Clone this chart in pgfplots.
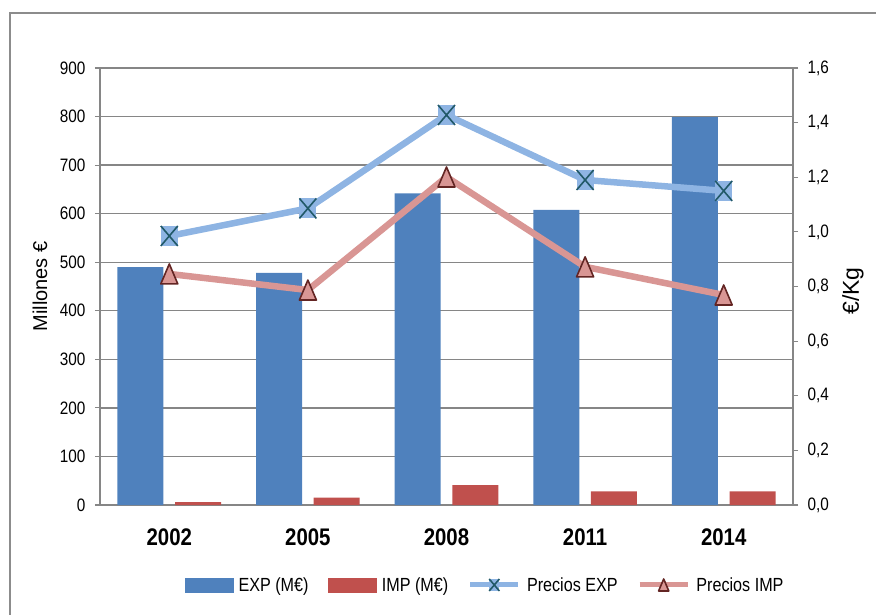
\documentclass[border=0pt]{standalone}
\usepackage{pgfplots}
\pgfplotsset{compat=1.18}
\usepackage{fontspec}
\setmainfont{Liberation Sans}[FakeStretch=0.85]
\newfontfamily\rotfont{Liberation Sans}

\definecolor{expblue}{HTML}{4F81BD}
\definecolor{impred}{HTML}{C0504D}
\definecolor{lblue}{HTML}{8EB4E3}
\definecolor{lred}{HTML}{D99694}
\definecolor{xteal}{HTML}{215968}
\definecolor{tdark}{HTML}{632523}
\definecolor{gridgray}{HTML}{868686}
\definecolor{bordergray}{HTML}{8C8C8C}

\pgfdeclareplotmark{sqx}{%
  \pgfpathrectangle{\pgfpoint{-0.85\pgfplotmarksize}{-\pgfplotmarksize}}{\pgfpoint{1.7\pgfplotmarksize}{2\pgfplotmarksize}}%
  \pgfsetfillcolor{lblue}\pgfusepathqfill
  \pgfpathmoveto{\pgfpoint{-0.85\pgfplotmarksize}{-\pgfplotmarksize}}%
  \pgfpathlineto{\pgfpoint{0.85\pgfplotmarksize}{\pgfplotmarksize}}%
  \pgfpathmoveto{\pgfpoint{-0.85\pgfplotmarksize}{\pgfplotmarksize}}%
  \pgfpathlineto{\pgfpoint{0.85\pgfplotmarksize}{-\pgfplotmarksize}}%
  \pgfusepathqstroke
}
\pgfdeclareplotmark{tri}{%
  \pgfpathmoveto{\pgfpoint{0pt}{\pgfplotmarksize}}%
  \pgfpathlineto{\pgfpoint{-0.85\pgfplotmarksize}{-\pgfplotmarksize}}%
  \pgfpathlineto{\pgfpoint{0.85\pgfplotmarksize}{-\pgfplotmarksize}}%
  \pgfpathclose
  \pgfusepathqfillstroke
}
\pgfplotsset{
  mylinelegend/.style={legend image code/.code={\draw[mark repeat=2,mark phase=2,##1, line width=5bp, mark size=6bp] plot coordinates {(0bp,0bp) (24bp,0bp) (48bp,0bp)};\path (51bp,0bp);}},
  expbarlegend/.style={legend image code/.code={\fill[expblue] (0bp,-7bp) rectangle (48bp,7bp);\path (51bp,0bp);}},
  impbarlegend/.style={legend image code/.code={\fill[impred] (0bp,-7bp) rectangle (48bp,7bp);\path (51bp,0bp);}},
}

\begin{document}
\begin{tikzpicture}
\useasboundingbox (-100bp,-110bp) rectangle (776bp,505bp);
\draw[bordergray, line width=2bp] (-90bp,-130bp) -- (-90bp,492bp) -- (800bp,492bp);

\begin{axis}[
  scale only axis, width=693bp, height=437bp,
  at={(0,0)}, anchor=south west,
  xmin=-0.5, xmax=4.5, ymin=0, ymax=900,
  xtick={0,1,2,3,4}, xticklabels={2002,2005,2008,2011,2014},
  xticklabel style={font=\fontsize{24bp}{28bp}\selectfont\bfseries, inner sep=0pt, anchor=north, yshift=-19bp},
  xtick style={draw=none},
  ytick={0,100,200,300,400,500,600,700,800,900},
  axis x line*=bottom, axis y line*=left,
  axis line style={-, draw=gridgray, line width=1.5bp},
  tick align=outside, major tick length=5bp,
  tick style={draw=gridgray, line width=1.2bp},
  ymajorgrids, grid style={draw=gridgray, line width=1.3bp},
  yticklabel style={font=\fontsize{18bp}{21bp}\selectfont, xshift=-6bp},
  /pgf/number format/assume math mode=true,
  ylabel={\rotfont Millones €},
  every axis y label/.style={at={(axis description cs:-0.0866,0.5)}, anchor=center, rotate=90, font=\fontsize{20bp}{24bp}\selectfont},
]
\addplot[ybar, bar width=46bp, bar shift=-28.8bp, fill=expblue, draw=none]
  coordinates {(0,490) (1,478) (2,642) (3,608) (4,799)};
\addplot[ybar, bar width=46bp, bar shift=28.8bp, fill=impred, draw=none]
  coordinates {(0,6) (1,15) (2,41) (3,28) (4,28)};
\end{axis}

\begin{axis}[
  scale only axis, width=693bp, height=437bp,
  at={(0,0)}, anchor=south west,
  xmin=-0.5, xmax=4.5, ymin=0, ymax=1.6,
  hide x axis, axis y line*=right,
  axis line style={-, draw=gridgray, line width=1.5bp},
  tick align=outside, major tick length=5bp,
  tick style={draw=gridgray, line width=1.2bp},
  ytick={0,0.2,0.4,0.6,0.8,1.0,1.2,1.4,1.6},
  yticklabel style={font=\fontsize{18bp}{21bp}\selectfont, xshift=6bp, /pgf/number format/.cd, fixed, fixed zerofill, precision=1, use comma},
  /pgf/number format/assume math mode=true,
  ylabel={\rotfont €/Kg},
  every axis y label/.style={at={(axis description cs:1.0866,0.49)}, anchor=center, rotate=90, font=\fontsize{23bp}{27bp}\selectfont},
  legend style={at={(0.556,-0.183)}, anchor=center, draw=none, fill=none,
    legend columns=4, font=\fontsize{19bp}{23bp}\selectfont,
    /tikz/every even column/.append style={column sep=17bp},
    inner sep=0pt, nodes={inner xsep=2.5bp, inner ysep=2.5bp}},
  legend cell align=left,
]
\addlegendimage{expbarlegend}
\addlegendentry{EXP (M€)}
\addlegendimage{impbarlegend}
\addlegendentry{IMP (M€)}
\addplot[color=lblue, line width=6.5bp, line join=round, mark=sqx, mark size=10bp,
  mark options={fill=lblue, draw=xteal, line width=1.6bp, solid}, mylinelegend]
  coordinates {(0,0.985) (1,1.086) (2,1.428) (3,1.19) (4,1.15)};
\addlegendentry{Precios EXP}
\addplot[color=lred, line width=6.5bp, line join=round, mark=tri, mark size=10bp,
  mark options={fill=lred, draw=tdark, line width=1.6bp, solid}, mylinelegend]
  coordinates {(0,0.846) (1,0.787) (2,1.201) (3,0.872) (4,0.769)};
\addlegendentry{Precios IMP}
\end{axis}
\end{tikzpicture}
\end{document}
